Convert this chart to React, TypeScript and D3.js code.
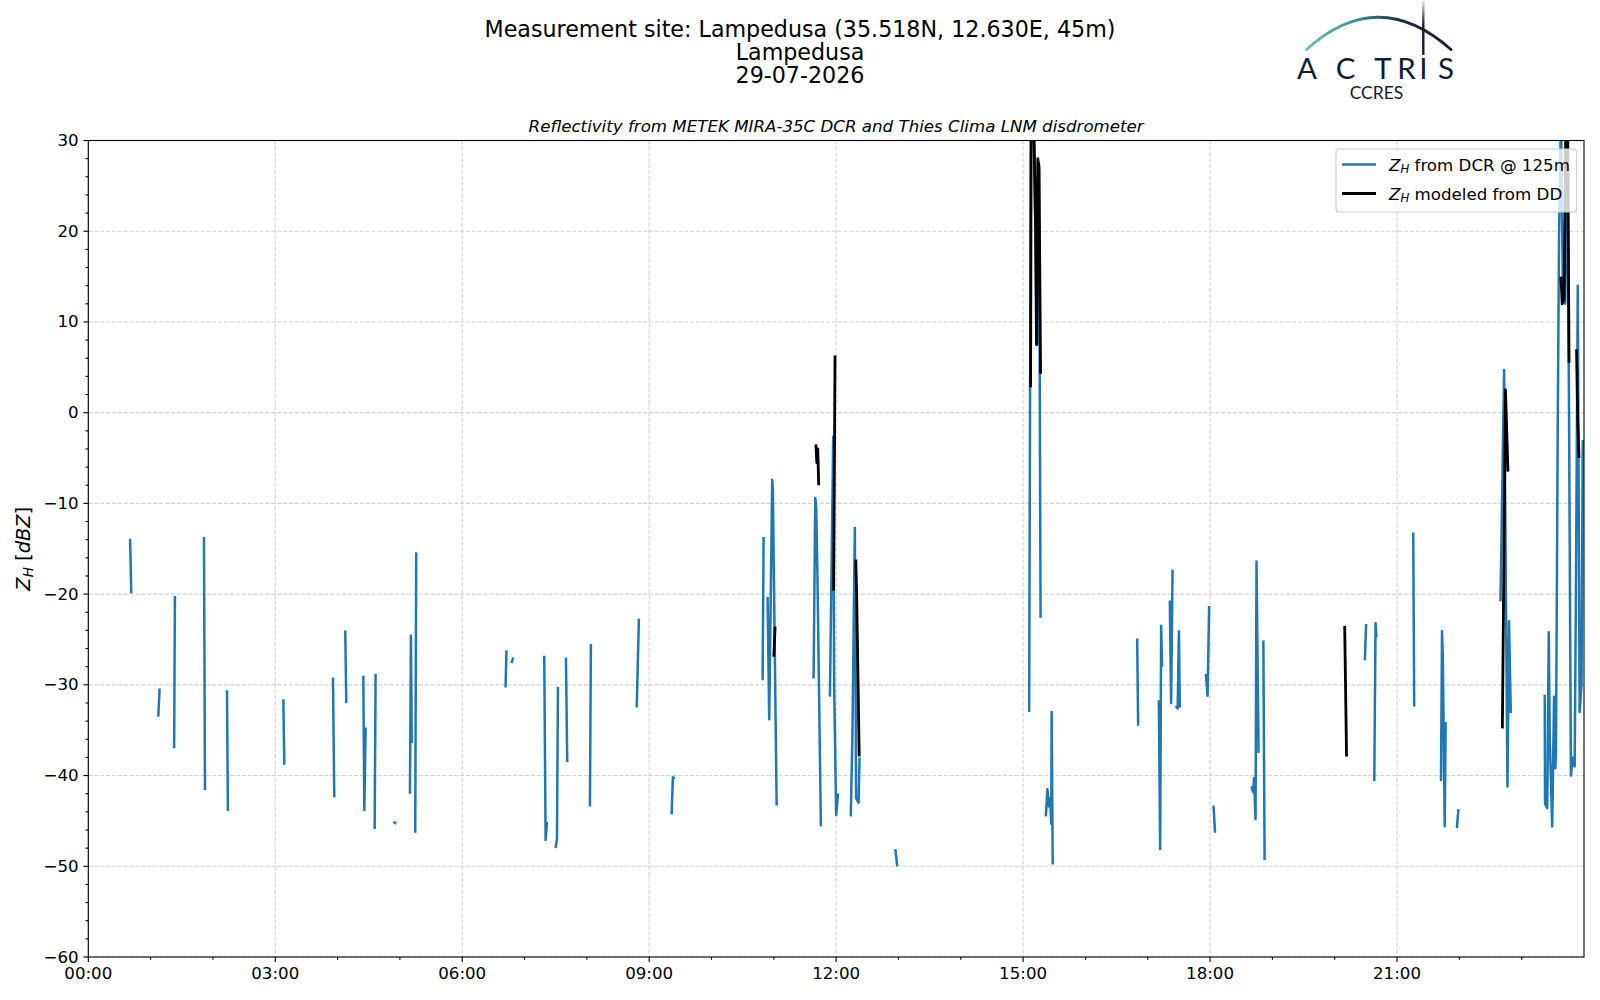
import React from "react";
import * as d3 from "d3";

// ---------------- data ----------------
// time in decimal hours (UTC), reflectivity in dBZ
const dcrSegments: [number, number][][] = [
  [[0.67, -13.9], [0.69, -19.9]],
  [[1.123, -33.5], [1.144, -30.4]],
  [[1.377, -37.0], [1.39, -20.2]],
  [[1.856, -13.7], [1.872, -41.6]],
  [[2.225, -30.6], [2.24, -43.9]],
  [[3.13, -31.6], [3.145, -38.8]],
  [[3.926, -29.2], [3.947, -42.4]],
  [[4.123, -24.0], [4.14, -32.0]],
  [[4.413, -29.0], [4.429, -43.8], [4.45, -34.7]],
  [[4.595, -45.9], [4.61, -28.8]],
  [[4.897, -45.1], [4.94, -45.3]],
  [[5.161, -42.0], [5.177, -24.6], [5.19, -36.4]],
  [[5.246, -46.3], [5.262, -15.4]],
  [[6.695, -30.3], [6.71, -26.2]],
  [[6.79, -27.6], [6.82, -27.0]],
  [[7.316, -26.8], [7.338, -47.1], [7.36, -45.1]],
  [[7.499, -48.0], [7.52, -47.0], [7.536, -30.2]],
  [[7.664, -27.0], [7.685, -38.5]],
  [[8.049, -43.4], [8.065, -25.5]],
  [[8.8, -32.5], [8.835, -22.7]],
  [[9.36, -44.3], [9.38, -40.2], [9.41, -40.3]],
  [[10.82, -29.5], [10.836, -13.7]],
  [[10.9, -20.3], [10.926, -33.8], [10.974, -7.4], [10.985, -8.6], [11.045, -43.3]],
  [[11.638, -29.3], [11.665, -9.4], [11.68, -10.5], [11.7, -18.0], [11.755, -45.6]],
  [[11.9, -31.3], [11.953, -2.65], [11.968, -30.0], [12.0, -44.35], [12.03, -41.96]],
  [[12.235, -44.5], [12.26, -36.0], [12.3, -12.7], [12.32, -42.5], [12.36, -43.0], [12.375, -38.0]],
  [[12.95, -48.1], [12.98, -50.0]],
  [[15.097, -33.0], [15.124, 32.0], [15.16, 34.0], [15.2, 20.0], [15.215, 8.4], [15.225, 7.5], [15.245, 27.5], [15.255, 27.5], [15.28, -22.6]],
  [[15.365, -44.5], [15.39, -41.5], [15.413, -43.4], [15.435, -42.5], [15.452, -45.3], [15.458, -33.0], [15.475, -49.8]],
  [[16.83, -24.9], [16.846, -34.5]],
  [[17.178, -31.7], [17.199, -48.1], [17.215, -23.5], [17.23, -28.0]],
  [[17.354, -20.7], [17.375, -32.0], [17.398, -17.3]],
  [[17.45, -32.3], [17.48, -32.6], [17.5, -24.1], [17.514, -32.5]],
  [[17.932, -28.8], [17.96, -31.2], [17.985, -21.3]],
  [[18.055, -43.3], [18.08, -46.3]],
  [[18.665, -41.2], [18.69, -41.8], [18.705, -40.3], [18.73, -44.8], [18.745, -16.4], [18.778, -37.5]],
  [[18.855, -25.1], [18.875, -49.3]],
  [[20.483, -27.3], [20.504, -23.3]],
  [[20.635, -40.6], [20.655, -23.2], [20.67, -24.8]],
  [[21.26, -13.2], [21.275, -32.4]],
  [[21.705, -40.6], [21.722, -24.1], [21.735, -27.0], [21.765, -45.6], [21.78, -34.1]],
  [[21.96, -45.8], [21.985, -43.7]],
  [[22.66, -20.8], [22.718, 4.7], [22.772, -41.2], [22.797, -23.0], [22.825, -33.1]],
  [[23.37, -31.1], [23.375, -43.1], [23.41, -43.6], [23.435, -24.2], [23.45, -35.8], [23.49, -45.6], [23.52, -31.3], [23.54, -39.2], [23.55, -37.5], [23.58, 0.1], [23.6, 19.8], [23.63, 33.0], [23.66, 14.0], [23.7, 12.0], [23.73, 33.0], [23.76, 0.0], [23.79, -40.0], [23.82, -38.0], [23.85, -39.0], [23.87, -20.0], [23.9, 14.0], [23.93, -33.0], [23.96, -30.0], [23.98, -3.0]],
];

const ddSegments: [number, number][][] = [
  [[11.0, -26.9], [11.02, -23.6]],
  [[11.675, -3.5], [11.69, -5.5], [11.705, -4.0], [11.72, -8.0]],
  [[11.96, -19.6], [11.982, 6.3]],
  [[12.315, -16.2], [12.33, -20.5], [12.37, -37.9]],
  [[15.12, 2.8], [15.13, 33.0], [15.17, 33.0], [15.2, 20.0], [15.215, 7.5], [15.235, 28.0], [15.255, 27.0], [15.28, 4.3]],
  [[20.16, -23.5], [20.19, -37.9]],
  [[22.69, -34.8], [22.74, 2.5], [22.78, -6.5]],
  [[23.63, 15.0], [23.65, 12.0], [23.68, 12.5], [23.71, 33.0], [23.74, 30.0], [23.76, 5.5]],
  [[23.88, 7.0], [23.9, -1.0], [23.92, -5.0]],
];

const xMajorTicks = [0, 3, 6, 9, 12, 15, 18, 21];
const xTickLabels = ["00:00", "03:00", "06:00", "09:00", "12:00", "15:00", "18:00", "21:00"];
const xMinorTicks = [1, 2, 4, 5, 7, 8, 10, 11, 13, 14, 16, 17, 19, 20, 22, 23];
const yMajorTicks = [-60, -50, -40, -30, -20, -10, 0, 10, 20, 30];
const titleLines = ["Measurement site: Lampedusa (35.518N, 12.630E, 45m)", "Lampedusa", "29-07-2026"];
const subTitle = "Reflectivity from METEK MIRA-35C DCR and Thies Clima LNM disdrometer";
const legendLabels = ["from DCR @ 125m", "modeled from DD"];
const logoLetters = ["A", "C", "T", "R", "I", "S"];

// ---------------- layout ----------------
const W = 1600;
const H = 1000;
const L = 88.3, R = 1584, T = 140.5, B = 957;
const FONT = "DejaVu Sans";
const BLUE = "#1f77b4";

export default function App() {
  const x = d3.scaleLinear().domain([0, 24]).range([L, R]);
  const y = d3.scaleLinear().domain([-60, 30]).range([B, T]);
  const line = d3
    .line<[number, number]>()
    .x((d) => x(d[0]))
    .y((d) => y(d[1]));
  const yMinor = d3.range(-60, 31, 2).filter((v) => v % 10 !== 0);
  const fmtY = (v: number) => (v < 0 ? "\u2212" + Math.abs(v) : String(v));

  const logoX = [1307, 1345.5, 1383, 1406.5, 1423.3, 1446];

  return (
    <svg
      width={W}
      height={H}
      style={{ position: "absolute", left: 0, top: 0, background: "#fff" }}
      fontFamily={FONT}
    >
      <defs>
        <clipPath id="plotclip">
          <rect x={L} y={T} width={R - L} height={B - T} />
        </clipPath>
        <linearGradient id="arcgrad" x1="1306" y1="0" x2="1451" y2="0" gradientUnits="userSpaceOnUse">
          <stop offset="0" stopColor="#6cc3bb" />
          <stop offset="0.35" stopColor="#3f8f9a" />
          <stop offset="0.65" stopColor="#1c2a4a" />
          <stop offset="1" stopColor="#141a36" />
        </linearGradient>
        <linearGradient id="vgrad" x1="0" y1="0" x2="0" y2="56" gradientUnits="userSpaceOnUse">
          <stop offset="0" stopColor="#141a36" stopOpacity="0.1" />
          <stop offset="0.45" stopColor="#141a36" stopOpacity="1" />
          <stop offset="1" stopColor="#141a36" stopOpacity="1" />
        </linearGradient>
      </defs>
      <rect x={0} y={0} width={W} height={H} fill="#fff" />

      {/* titles */}
      {titleLines.map((t, i) => (
        <text key={i} x={800} y={28.6 + i * 23.2} textAnchor="middle" dominantBaseline="central" fontSize={22.2} fill="#000">
          {t}
        </text>
      ))}
      <text x={(L + R) / 2} y={126} textAnchor="middle" dominantBaseline="central" fontSize={16.67} fontStyle="italic" fill="#000">
        {subTitle}
      </text>

      {/* logo */}
      <g>
        <path d="M1306.5,49.5 Q1378,-15 1451,49.5" fill="none" stroke="url(#arcgrad)" strokeWidth={2.8} strokeLinecap="round" />
        <line x1={1423.3} y1={1} x2={1423.3} y2={55} stroke="url(#vgrad)" strokeWidth={2.4} />
        {logoLetters.map((c, i) => (
          <text key={i} x={logoX[i]} y={78.5} textAnchor="middle" fontSize={29.5} fontFamily="Lato" fontWeight={400} fill="#141a36">
            {c}
          </text>
        ))}
        <text x={1376.5} y={99} textAnchor="middle" fontSize={17.5} fontFamily="Lato" fill="#141a36">
          CCRES
        </text>
      </g>

      {/* grid */}
      <g stroke="#d3d3d3" strokeWidth={1.1} strokeDasharray="4.1,1.8">
        {xMajorTicks.map((t) => (
          <line key={"gx" + t} x1={x(t)} x2={x(t)} y1={T} y2={B} />
        ))}
        {yMajorTicks.map((v) => (
          <line key={"gy" + v} x1={L} x2={R} y1={y(v)} y2={y(v)} />
        ))}
      </g>

      {/* data */}
      <g clipPath="url(#plotclip)" fill="none" strokeLinejoin="round">
        {dcrSegments.map((s, i) => (
          <path key={"dcr" + i} d={line(s) || ""} stroke={BLUE} strokeWidth={2.5} />
        ))}
        {ddSegments.map((s, i) => (
          <path key={"dd" + i} d={line(s) || ""} stroke="#000" strokeWidth={2.8} />
        ))}
      </g>

      {/* frame */}
      <rect x={L} y={T} width={R - L} height={B - T} fill="none" stroke="#000" strokeWidth={1.1} />

      {/* ticks */}
      <g stroke="#000" strokeWidth={1.1}>
        {xMajorTicks.map((t) => (
          <line key={"xt" + t} x1={x(t)} x2={x(t)} y1={B} y2={B + 4.9} />
        ))}
        {xMinorTicks.map((t) => (
          <line key={"xm" + t} x1={x(t)} x2={x(t)} y1={B} y2={B + 2.8} />
        ))}
        {yMajorTicks.map((v) => (
          <line key={"yt" + v} x1={L} x2={L - 4.9} y1={y(v)} y2={y(v)} />
        ))}
        {yMinor.map((v) => (
          <line key={"ym" + v} x1={L} x2={L - 2.8} y1={y(v)} y2={y(v)} />
        ))}
      </g>
      {xMajorTicks.map((t, i) => (
        <text key={"xl" + t} x={x(t)} y={B + 9.7} textAnchor="middle" dominantBaseline="hanging" fontSize={16.67} fill="#000">
          {xTickLabels[i]}
        </text>
      ))}
      {yMajorTicks.map((v) => (
        <text key={"yl" + v} x={L - 9.7} y={y(v)} textAnchor="end" dominantBaseline="central" fontSize={16.67} fill="#000">
          {fmtY(v)}
        </text>
      ))}

      {/* y label */}
      <text transform={`translate(23,${(T + B) / 2}) rotate(-90)`} textAnchor="middle" dominantBaseline="central" fontSize={19.4} fill="#000">
        <tspan fontStyle="italic">Z</tspan>
        <tspan fontStyle="italic" fontSize={13.6} dy={4.5}>H</tspan>
        <tspan dy={-4.5}> [</tspan>
        <tspan fontStyle="italic">dBZ</tspan>
        <tspan>]</tspan>
      </text>

      {/* legend */}
      <g>
        <rect x={1336} y={149} width={240.5} height={63} rx={3} ry={3} fill="#fff" fillOpacity={0.8} stroke="#cccccc" strokeWidth={1.1} />
        {legendLabels.map((lab, i) => {
          const cy = 164.5 + i * 29;
          return (
            <g key={"lg" + i}>
              <line x1={1342} x2={1376} y1={cy} y2={cy} stroke={i === 0 ? BLUE : "#000"} strokeWidth={i === 0 ? 2.5 : 2.8} />
              <text x={1389} y={cy} dominantBaseline="central" fontSize={16.67} fill="#000">
                <tspan fontStyle="italic">Z</tspan>
                <tspan fontStyle="italic" fontSize={11.7} dy={4}>H</tspan>
                <tspan dy={-4}> {lab}</tspan>
              </text>
            </g>
          );
        })}
      </g>
    </svg>
  );
}
